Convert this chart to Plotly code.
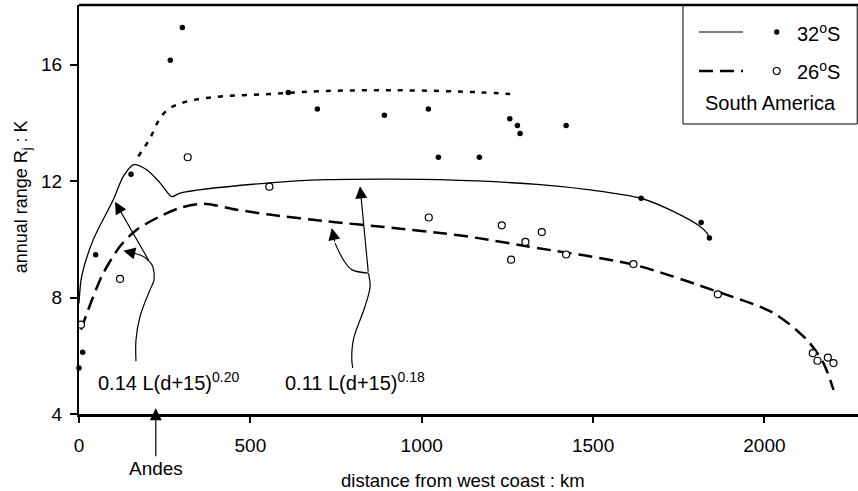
import plotly.graph_objects as go

# ---------------- data ----------------
# 32 S observations (filled dots)
d32 = [0, 10.8, 48.7, 151.8, 266.5, 301.5, 610.8, 695.5, 891, 1019.4, 1048.6,
       1168.2, 1257, 1279.2, 1287, 1421.3, 1640.2, 1815.3, 1839.5]
r32 = [5.58, 6.12, 9.47, 12.24, 16.15, 17.28, 15.04, 14.48, 14.26, 14.48, 12.82,
       12.82, 14.14, 13.91, 13.64, 13.91, 11.41, 10.58, 10.05]

# 26 S observations (open circles)
d26 = [5.8, 119.7, 317.2, 555.4, 1020.6, 1233.6, 1260.8, 1302.5, 1350.4, 1421.3,
       1617.7, 1864, 2141.2, 2154.7, 2185, 2201.4]
r26 = [7.07, 8.64, 12.82, 11.81, 10.75, 10.48, 9.30, 9.91, 10.25, 9.48,
       9.15, 8.11, 6.09, 5.83, 5.94, 5.75]

# model curve 32 S (solid)
fit32_d = [0, 7.8, 41.7, 100, 129.3, 158.5, 197.6, 236.4, 270.5, 294.8, 555.4,
           722.9, 916.4, 1053.6, 1345.4, 1491, 1637.3, 1734, 1812.4, 1831.9, 1838.6]
fit32_r = [7.8, 8.73, 9.99, 11.36, 12.16, 12.56, 12.39, 11.94, 11.47, 11.59, 11.94,
           12.05, 12.07, 12.05, 11.88, 11.70, 11.42, 10.96, 10.44, 10.22, 10.06]

# model curve 26 S (long dashes)
fit26_d = [5.8, 41.7, 70.9, 119.7, 168.4, 236.4, 294.8, 362.8, 460, 555.4, 722.9,
           917.3, 1053.6, 1160.6, 1306.6, 1617.7, 1861.1, 2026.3, 2123.7, 2172.2, 2201.4]
fit26_r = [6.90, 8.04, 8.84, 9.76, 10.33, 10.79, 11.08, 11.22, 11.02, 10.85, 10.62,
           10.39, 10.22, 10.05, 9.76, 9.13, 8.21, 7.47, 6.55, 5.75, 4.83]

# upper envelope (short dashes)
env_d = [173, 202, 265.6, 610.8, 917.3, 1170.3, 1258]
env_r = [12.85, 13.36, 14.51, 15.03, 15.12, 15.05, 14.99]

# annotation arrows: stems and tips
arrow1_d = [166.3, 166.3, 178, 207.2, 218.9, 215.1, 205.2]
arrow1_r = [5.81, 6.55, 7.35, 8.27, 8.61, 9.07, 9.24]
arrow1a_tip = (105.1, 11.29)
arrow1b_d = [205.2, 187.7, 158.5]
arrow1b_r = [9.24, 9.41, 9.53]
arrow1b_tip = (129.3, 9.61)

arrow2_d = [798.8, 795.9, 800.5, 834.7, 849.3, 844.3]
arrow2_r = [5.58, 5.87, 6.55, 7.70, 8.38, 8.84]
arrow2a_tip = (820.1, 11.82)
arrow2b_d = [844.3, 795.9, 771.3, 747.1]
arrow2b_r = [8.84, 8.96, 9.30, 9.87]
arrow2b_tip = (737.5, 10.39)

andes_d = 224
x_ticks = [0, 500, 1000, 1500, 2000]
y_ticks = [4, 8, 12, 16]

FONT = "Arial, 'Liberation Sans', sans-serif"
BLACK = "#000000"

fig = go.Figure()

# curves
fig.add_trace(go.Scatter(x=env_d, y=env_r, mode="lines", line=dict(color=BLACK, width=2.5, dash="5px,7px", shape="spline"), hoverinfo="skip"))
fig.add_trace(go.Scatter(x=fit32_d, y=fit32_r, mode="lines", line=dict(color=BLACK, width=1.3, shape="spline", smoothing=0.8), hoverinfo="skip"))
fig.add_trace(go.Scatter(x=fit26_d, y=fit26_r, mode="lines", line=dict(color=BLACK, width=2.5, dash="14px,7px", shape="spline", smoothing=0.8), hoverinfo="skip"))

# arrow stems
for xs, ys in [(arrow1_d, arrow1_r), (arrow1b_d, arrow1b_r), (arrow2_d, arrow2_r), (arrow2b_d, arrow2b_r)]:
    fig.add_trace(go.Scatter(x=xs, y=ys, mode="lines", line=dict(color=BLACK, width=1.2, shape="spline"), hoverinfo="skip"))

# points
fig.add_trace(go.Scatter(x=d32, y=r32, mode="markers", marker=dict(color=BLACK, size=5.5), cliponaxis=False, name="32S"))
fig.add_trace(go.Scatter(x=d26, y=r26, mode="markers", marker=dict(color="white", size=7, line=dict(color=BLACK, width=1.2)), cliponaxis=False, name="26S"))

annotations = []
# arrowheads
for (x0, y0), (x1, y1) in [((arrow1_d[-1], arrow1_r[-1]), arrow1a_tip),
                            ((arrow1b_d[-1], arrow1b_r[-1]), arrow1b_tip),
                            ((arrow2_d[-1], arrow2_r[-1]), arrow2a_tip),
                            ((arrow2b_d[-1], arrow2b_r[-1]), arrow2b_tip)]:
    annotations.append(dict(x=x1, y=y1, ax=x0, ay=y0, xref="x", yref="y", axref="x", ayref="y",
                            text="", showarrow=True, arrowhead=2, arrowsize=2, arrowwidth=1.2, arrowcolor=BLACK))

annotations.append(dict(x=49.6, y=5.11, xref="x", yref="y", xanchor="left", yanchor="middle", showarrow=False,
                        text="0.14 L(d+15)<sup>0.20</sup>", font=dict(family=FONT, size=20, color=BLACK)))
annotations.append(dict(x=594.5, y=5.11, xref="x", yref="y", xanchor="left", yanchor="middle", showarrow=False,
                        text="0.11 L(d+15)<sup>0.18</sup>", font=dict(family=FONT, size=20, color=BLACK)))
# Andes
annotations.append(dict(x=andes_d, y=4.2, xref="x", yref="y", ax=0, ay=60, text="Andes", showarrow=True,
                        arrowhead=2, arrowsize=2, arrowwidth=1.2, arrowcolor=BLACK,
                        font=dict(family=FONT, size=19, color=BLACK)))
# axis titles
annotations.append(dict(x=0.493, y=(414 - 480) / 409, xref="paper", yref="paper", showarrow=False, xanchor="center", yanchor="middle",
                        text="distance from west coast : km", font=dict(family=FONT, size=18.5, color=BLACK)))
annotations.append(dict(x=-0.073, y=0.53, xref="paper", yref="paper", showarrow=False, xanchor="center", yanchor="middle",
                        textangle=-90, text="annual range R<sub>j</sub> : K", font=dict(family=FONT, size=18, color=BLACK)))

# custom legend
lx_line0, lx_line1 = (699 - 79) / 779, (743 - 79) / 779
lx_mark = (776.7 - 79) / 779
lx_text = (795 - 79) / 779
ly1, ly2, ly3 = (414 - 32) / 409, (414 - 71) / 409, (414 - 103) / 409
annotations.append(dict(x=lx_text, y=ly1, xref="paper", yref="paper", xanchor="left", yanchor="middle", showarrow=False,
                        text="32<sup>o</sup>S", font=dict(family=FONT, size=20, color=BLACK)))
annotations.append(dict(x=lx_text, y=ly2, xref="paper", yref="paper", xanchor="left", yanchor="middle", showarrow=False,
                        text="26<sup>o</sup>S", font=dict(family=FONT, size=20, color=BLACK)))
annotations.append(dict(x=(770 - 79) / 779, y=ly3, xref="paper", yref="paper", xanchor="center", yanchor="middle", showarrow=False,
                        text="South America", font=dict(family=FONT, size=20, color=BLACK)))

shapes = [
    # top frame line
    dict(type="line", xref="paper", yref="paper", x0=0, x1=1, y0=1, y1=1, line=dict(color=BLACK, width=2.5)),
    # legend box
    dict(type="rect", xref="paper", yref="paper", x0=(683 - 79) / 779, x1=0.999, y0=(414 - 124) / 409, y1=1,
         line=dict(color=BLACK, width=1), fillcolor="white", layer="below"),
    dict(type="line", xref="paper", yref="paper", x0=lx_line0, x1=lx_line1, y0=ly1, y1=ly1, line=dict(color=BLACK, width=1.2)),
    dict(type="line", xref="paper", yref="paper", x0=lx_line0, x1=lx_line1, y0=ly2, y1=ly2, line=dict(color=BLACK, width=2.5, dash="14px,7px")),
    dict(type="circle", xref="paper", yref="paper", xsizemode="pixel", ysizemode="pixel", xanchor=lx_mark, yanchor=ly1,
         x0=-2.7, x1=2.7, y0=-2.7, y1=2.7, fillcolor=BLACK, line=dict(color=BLACK, width=0)),
    dict(type="circle", xref="paper", yref="paper", xsizemode="pixel", ysizemode="pixel", xanchor=lx_mark, yanchor=ly2,
         x0=-3.5, x1=3.5, y0=-3.5, y1=3.5, fillcolor="white", line=dict(color=BLACK, width=1.2)),
]

fig.update_layout(
    width=858, height=491,
    margin=dict(l=79, r=0, t=5, b=77),
    paper_bgcolor="white", plot_bgcolor="white",
    showlegend=False,
    font=dict(family=FONT, size=19, color=BLACK),
    annotations=annotations,
    shapes=shapes,
    xaxis=dict(range=[0, 2273], tickvals=x_ticks, ticks="outside", ticklen=6, tickwidth=1.5, tickcolor=BLACK,
               showline=True, linecolor=BLACK, linewidth=2.5, showgrid=False, zeroline=False,
               tickfont=dict(family=FONT, size=19, color=BLACK), ticklabelstandoff=6),
    yaxis=dict(range=[4, 18.05], tickvals=y_ticks, ticks="outside", ticklen=7, tickwidth=1.5, tickcolor=BLACK,
               showline=True, linecolor=BLACK, linewidth=2, showgrid=False, zeroline=False,
               tickfont=dict(family=FONT, size=19, color=BLACK), ticklabelstandoff=4),
)

fig.write_html("out.html", config={"displayModeBar": False},
               post_script="document.body.style.margin='0';document.body.style.padding='0';document.body.style.overflow='hidden';")
